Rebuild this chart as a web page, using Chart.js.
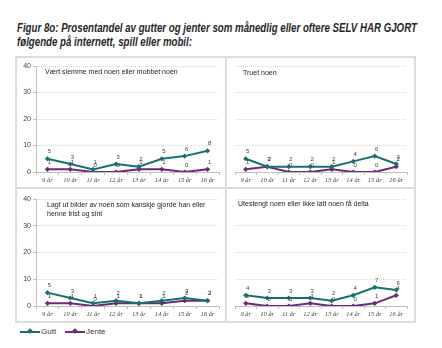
<!DOCTYPE html>
<html>
<head>
<meta charset="utf-8">
<script src="https://cdn.jsdelivr.net/npm/chart.js@4.4.1/dist/chart.umd.min.js"></script>
<style>
  body { margin: 0; background: #fff; }
  #side { position: relative; width: 442px; height: 348px; overflow: hidden; font-family: "Liberation Sans", Arial, sans-serif; }
  .tittel { position: absolute; left: 17px; top: 22px; font-family: "Liberation Sans", sans-serif; font-weight: bold; font-style: italic; font-size: 12.5px; line-height: 13.5px; color: #262626; white-space: nowrap; transform-origin: 0 0; }
  .boks { position: absolute; box-sizing: border-box; border: 2px solid #dcdcdc; }
  canvas { position: absolute; }
  .ptittel { position: absolute; font-size: 7px; line-height: 9px; color: #1e1e1e; white-space: nowrap; }
  .legende { position: absolute; left: 18px; top: 325px; height: 13px; font-size: 8px; color: #404040; }
  .legende span { position: absolute; top: 2px; }
  .strek { position: absolute; top: 6px; width: 20px; height: 2px; }
  .merke { position: absolute; top: 4px; width: 4px; height: 4px; transform: rotate(45deg); }
</style>
</head>
<body>
<div id="side">
  <div class="tittel" id="tittel">Figur 8o: Prosentandel av gutter og jenter som månedlig eller oftere SELV HAR GJORT<br>følgende på internett, spill eller mobil:</div>

  <div class="boks" style="left:15px;top:56px;width:212px;height:133px"></div>
  <div class="boks" style="left:225px;top:56px;width:191px;height:133px"></div>
  <div class="boks" style="left:15px;top:187px;width:212px;height:136px"></div>
  <div class="boks" style="left:225px;top:187px;width:191px;height:136px"></div>

  <canvas id="mobbet" width="210" height="131" style="left:16px;top:57px"></canvas>
  <canvas id="truet" width="189" height="131" style="left:226px;top:57px"></canvas>
  <canvas id="bilder" width="210" height="133" style="left:16px;top:189px"></canvas>
  <canvas id="utestengt" width="189" height="133" style="left:226px;top:189px"></canvas>

  <div class="ptittel" style="left:45px;top:67px">Vært slemme med noen eller mobbet noen</div>
  <div class="ptittel" style="left:243px;top:68px">Truet noen</div>
  <div class="ptittel" style="left:47px;top:200px">Lagt ut bilder av noen som kanskje gjorde han eller<br>henne trist og sint</div>
  <div class="ptittel" style="left:238px;top:199px">Utestengt noen eller ikke latt noen få delta</div>

  <div class="legende">
    <div class="strek" style="left:2px;background:#16716e"></div>
    <div class="merke" style="left:10px;background:#16716e"></div>
    <span style="left:23px">Gutt</span>
    <div class="strek" style="left:47px;background:#6b2a78"></div>
    <div class="merke" style="left:55px;background:#6b2a78"></div>
    <span style="left:68px">Jente</span>
  </div>
</div>

<script>
// Alder og prosentverdier per panel
const aldre = ['9 år', '10 år', '11 år', '12 år', '13 år', '14 år', '15 år', '16 år'];
const yVerdier = [0, 10, 20, 30, 40];

const guttMobbet = [5, 3, 1, 3, 2, 5, 6, 8];
const jenteMobbet = [1, 1, 0, 0, 1, 1, 0, 1];

const guttTruet = [5, 2, 2, 2, 2, 4, 6, 3];
const jenteTruet = [1, 2, 0, 0, 1, 0, 0, 2];

const guttBilder = [5, 3, 1, 2, 1, 2, 3, 2];
const jenteBilder = [1, 1, 0, 1, 1, 1, 2, 2];

const guttUtestengt = [4, 3, 3, 3, 2, 4, 7, 6];
const jenteUtestengt = [1, 0, 0, 1, 0, 0, 1, 4];

const farger = { gutt: '#16716e', jente: '#6b2a78' };

// tittelen er smal i originalen, så den presses sammen til 400px
const tittel = document.getElementById('tittel');
tittel.style.transform = 'scaleX(' + (400 / tittel.offsetWidth) + ')';

// små tall over hvert punkt
const verdiEtiketter = {
    id: 'verdiEtiketter',
    afterDatasetsDraw(chart) {
        const ctx = chart.ctx;
        ctx.save();
        ctx.font = '6px "Liberation Sans", Arial, sans-serif';
        ctx.fillStyle = '#404040';
        ctx.textAlign = 'center';
        ctx.textBaseline = 'bottom';
        chart.data.datasets.forEach(function (ds, i) {
            chart.getDatasetMeta(i).data.forEach(function (p, j) {
                ctx.fillText(String(ds.data[j]), p.x + 2, p.y - 4);
            });
        });
        ctx.restore();
    }
};

function lagPanel(id, gutt, jente, medYAkse, toppPad, xHoyde) {
    const ctx = document.getElementById(id).getContext('2d');
    return new Chart(ctx, {
        type: 'line',
        data: {
            labels: aldre,
            datasets: [
                { label: 'Gutt', data: gutt, borderColor: farger.gutt, backgroundColor: farger.gutt },
                { label: 'Jente', data: jente, borderColor: farger.jente, backgroundColor: farger.jente }
            ]
        },
        options: {
            responsive: false,
            animation: false,
            layout: { padding: { top: toppPad, right: medYAkse ? 7 : 8, left: 0, bottom: 0 } },
            elements: {
                line: { borderWidth: 2, tension: 0 },
                point: { pointStyle: 'rectRot', radius: 2.6, borderWidth: 0 }
            },
            plugins: { legend: { display: false }, tooltip: { enabled: false } },
            scales: {
                x: {
                    offset: true,
                    grid: { display: true, drawOnChartArea: false, offset: true, drawTicks: true, tickLength: 3, tickColor: '#bfbfbf' },
                    border: { display: true, color: '#bfbfbf', width: 1 },
                    ticks: {
                        color: '#404040', padding: 1, maxRotation: 0, autoSkip: false,
                        font: { size: 6.5, style: 'italic', family: '"Liberation Serif", serif' }
                    },
                    afterFit: function (s) { s.height = xHoyde; }
                },
                y: {
                    min: 0, max: 40,
                    afterBuildTicks: function (s) { s.ticks = yVerdier.map(v => ({ value: v })); },
                    grid: { color: '#d9d9d9', lineWidth: 1, drawTicks: medYAkse, tickLength: 3, tickColor: '#bfbfbf' },
                    border: { display: medYAkse, color: '#bfbfbf', width: 1, dash: [1, 1] },
                    ticks: { display: medYAkse, color: '#404040', padding: 2, font: { size: 7 } },
                    afterFit: function (s) { s.width = medYAkse ? 20 : 9; }
                }
            }
        },
        plugins: [verdiEtiketter]
    });
}

lagPanel('mobbet', guttMobbet, jenteMobbet, true, 9, 16);
lagPanel('truet', guttTruet, jenteTruet, false, 9, 16);
lagPanel('bilder', guttBilder, jenteBilder, true, 10, 16);
lagPanel('utestengt', guttUtestengt, jenteUtestengt, false, 10, 16);
</script>
</body>
</html>
